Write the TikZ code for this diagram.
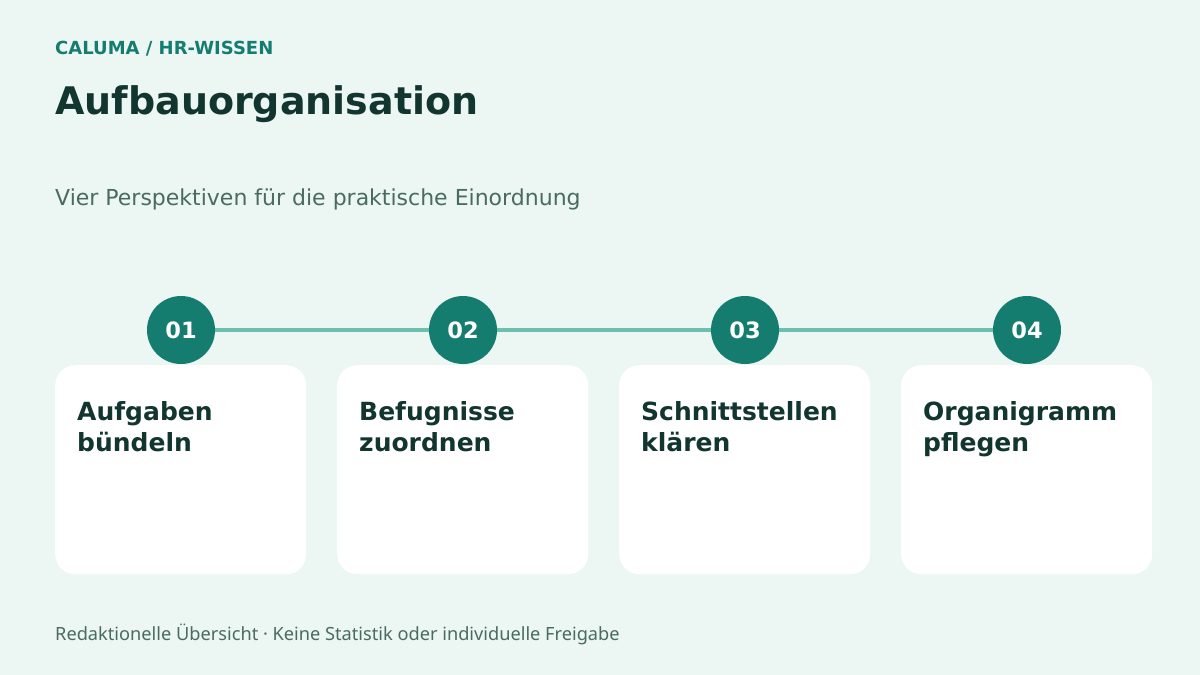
\documentclass[tikz,border=0pt]{standalone}
\usepackage{fontspec}
\setmainfont{DejaVu Sans}
\newfontfamily\footfont{Noto Sans}
\definecolor{bgc}{HTML}{ECF6F2}
\definecolor{darkc}{HTML}{12362F}
\definecolor{tealc}{HTML}{157D6F}
\definecolor{linec}{HTML}{6CC0B0}
\definecolor{grayc}{HTML}{4A6B61}
\begin{document}
\begin{tikzpicture}[x=1pt,y=-1pt,
  card/.style={fill=white, rounded corners=20pt, minimum width=251pt, minimum height=209pt, inner sep=0pt, anchor=north west},
  num/.style={circle, fill=tealc, minimum size=68pt, inner sep=0pt, text=white, font=\bfseries\fontsize{22.5}{26}\selectfont},
  ctitle/.style={anchor=base west, text=darkc, font=\bfseries\fontsize{25}{31}\selectfont, align=left, inner sep=0pt},
]
\fill[bgc] (0,0) rectangle (1200,675);
\useasboundingbox (0,0) rectangle (1200,675);
\node[anchor=base west, inner sep=0pt, text=tealc, font=\bfseries\fontsize{18}{21}\selectfont] (kick) at (55,54.5) {CALUMA / HR-WISSEN};
\node[anchor=base west, inner sep=0pt, text=darkc, font=\bfseries\fontsize{38}{45}\selectfont] (title) at (55,114) {Aufbauorganisation};
\node[anchor=base west, inner sep=0pt, text=grayc, font=\fontsize{22}{26}\selectfont] (sub) at (55,205) {Vier Perspektiven für die praktische Einordnung};
\node[anchor=base west, inner sep=0pt, text=grayc, font=\footfont\fontsize{18.2}{21}\selectfont] (foot) at (55,640) {Redaktionelle Übersicht · Keine Statistik oder individuelle Freigabe};
\foreach \i/\x in {1/55,2/337,3/619,4/901}{
  \node[card] (c\i) at (\x,365) {};
}
\coordinate (p1) at (181,330);
\coordinate (p4) at (1027,330);
\draw[linec, line width=4pt] (p1) -- (p4);
\node[num] (n1) at (181,330) {01};
\node[num] (n2) at (463,330) {02};
\node[num] (n3) at (745,330) {03};
\node[num] (n4) at (1027,330) {04};
\node[ctitle] (t1) at (77,451) {Aufgaben\\bündeln};
\node[ctitle] (t2) at (359,451) {Befugnisse\\zuordnen};
\node[ctitle] (t3) at (641,451) {Schnittstellen\\klären};
\node[ctitle] (t4) at (923,451) {Organigramm\\pflegen};
\end{tikzpicture}
\end{document}
